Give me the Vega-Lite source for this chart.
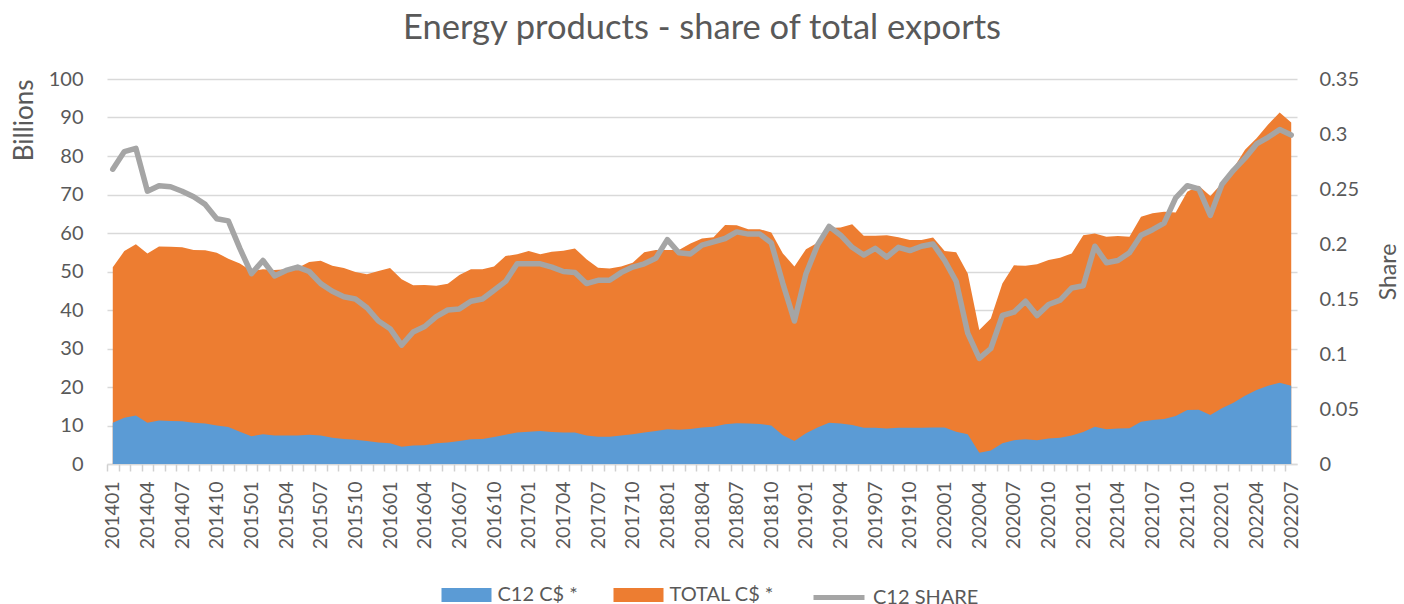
{
  "$schema": "https://vega.github.io/schema/vega-lite/v6.json",
  "autosize": {"type": "none"},
  "width": 1190,
  "height": 385,
  "padding": {"left": 107, "top": 79, "right": 107, "bottom": 140},
  "background": "white",
  "title": {"text": "Energy products - share of total exports", "font": "Lato", "fontSize": 34.5, "fontWeight": "normal", "color": "#595959", "offset": 23, "anchor": "middle"},
  "config": {"view": {"stroke": null}, "font": "Lato"},
  "data": {"values": [
    {"m":"201401","c12":10.7,"total":51.1,"share":0.268},
    {"m":"201402","c12":12.0,"total":55.3,"share":0.284},
    {"m":"201403","c12":12.6,"total":57.1,"share":0.287},
    {"m":"201404","c12":10.7,"total":54.7,"share":0.248},
    {"m":"201405","c12":11.3,"total":56.5,"share":0.253},
    {"m":"201406","c12":11.2,"total":56.4,"share":0.252},
    {"m":"201407","c12":11.1,"total":56.3,"share":0.248},
    {"m":"201408","c12":10.7,"total":55.6,"share":0.243},
    {"m":"201409","c12":10.5,"total":55.5,"share":0.236},
    {"m":"201410","c12":10.0,"total":54.9,"share":0.223},
    {"m":"201411","c12":9.6,"total":53.3,"share":0.221},
    {"m":"201412","c12":8.4,"total":52.1,"share":0.196},
    {"m":"201501","c12":7.2,"total":50.1,"share":0.173},
    {"m":"201502","c12":7.7,"total":50.6,"share":0.185},
    {"m":"201503","c12":7.4,"total":50.4,"share":0.171},
    {"m":"201504","c12":7.4,"total":50.6,"share":0.176},
    {"m":"201505","c12":7.4,"total":50.9,"share":0.179},
    {"m":"201506","c12":7.6,"total":52.5,"share":0.175},
    {"m":"201507","c12":7.4,"total":52.8,"share":0.164},
    {"m":"201508","c12":6.8,"total":51.5,"share":0.157},
    {"m":"201509","c12":6.5,"total":50.9,"share":0.152},
    {"m":"201510","c12":6.3,"total":49.9,"share":0.150},
    {"m":"201511","c12":6.0,"total":49.3,"share":0.142},
    {"m":"201512","c12":5.6,"total":50.1,"share":0.130},
    {"m":"201601","c12":5.4,"total":50.9,"share":0.123},
    {"m":"201602","c12":4.5,"total":48.0,"share":0.108},
    {"m":"201603","c12":4.8,"total":46.4,"share":0.120},
    {"m":"201604","c12":4.9,"total":46.5,"share":0.125},
    {"m":"201605","c12":5.4,"total":46.3,"share":0.134},
    {"m":"201606","c12":5.6,"total":46.8,"share":0.140},
    {"m":"201607","c12":6.0,"total":49.1,"share":0.141},
    {"m":"201608","c12":6.4,"total":50.6,"share":0.148},
    {"m":"201609","c12":6.5,"total":50.6,"share":0.150},
    {"m":"201610","c12":7.0,"total":51.3,"share":0.158},
    {"m":"201611","c12":7.6,"total":54.0,"share":0.166},
    {"m":"201612","c12":8.2,"total":54.5,"share":0.182},
    {"m":"201701","c12":8.4,"total":55.3,"share":0.182},
    {"m":"201702","c12":8.6,"total":54.5,"share":0.182},
    {"m":"201703","c12":8.3,"total":55.1,"share":0.179},
    {"m":"201704","c12":8.2,"total":55.4,"share":0.175},
    {"m":"201705","c12":8.2,"total":56.0,"share":0.174},
    {"m":"201706","c12":7.4,"total":53.2,"share":0.164},
    {"m":"201707","c12":7.1,"total":51.0,"share":0.167},
    {"m":"201708","c12":7.1,"total":50.8,"share":0.167},
    {"m":"201709","c12":7.4,"total":51.3,"share":0.174},
    {"m":"201710","c12":7.7,"total":52.3,"share":0.179},
    {"m":"201711","c12":8.2,"total":55.0,"share":0.182},
    {"m":"201712","c12":8.6,"total":55.6,"share":0.187},
    {"m":"201801","c12":9.0,"total":55.6,"share":0.204},
    {"m":"201802","c12":8.9,"total":55.6,"share":0.192},
    {"m":"201803","c12":9.1,"total":57.3,"share":0.191},
    {"m":"201804","c12":9.5,"total":58.6,"share":0.199},
    {"m":"201805","c12":9.7,"total":58.9,"share":0.202},
    {"m":"201806","c12":10.3,"total":62.1,"share":0.205},
    {"m":"201807","c12":10.6,"total":62.0,"share":0.211},
    {"m":"201808","c12":10.5,"total":61.0,"share":0.209},
    {"m":"201809","c12":10.4,"total":61.0,"share":0.209},
    {"m":"201810","c12":10.0,"total":60.1,"share":0.201},
    {"m":"201811","c12":7.5,"total":54.7,"share":0.164},
    {"m":"201812","c12":6.0,"total":51.3,"share":0.130},
    {"m":"201901","c12":8.0,"total":55.8,"share":0.173},
    {"m":"201902","c12":9.5,"total":57.5,"share":0.199},
    {"m":"201903","c12":10.7,"total":61.3,"share":0.216},
    {"m":"201904","c12":10.5,"total":61.4,"share":0.208},
    {"m":"201905","c12":10.1,"total":62.3,"share":0.197},
    {"m":"201906","c12":9.4,"total":59.3,"share":0.190},
    {"m":"201907","c12":9.4,"total":59.3,"share":0.196},
    {"m":"201908","c12":9.2,"total":59.4,"share":0.188},
    {"m":"201909","c12":9.4,"total":58.9,"share":0.197},
    {"m":"201910","c12":9.4,"total":58.2,"share":0.194},
    {"m":"201911","c12":9.4,"total":58.2,"share":0.198},
    {"m":"201912","c12":9.5,"total":58.8,"share":0.200},
    {"m":"202001","c12":9.5,"total":55.3,"share":0.185},
    {"m":"202002","c12":8.4,"total":55.0,"share":0.166},
    {"m":"202003","c12":7.7,"total":49.5,"share":0.119},
    {"m":"202004","c12":2.9,"total":34.8,"share":0.096},
    {"m":"202005","c12":3.5,"total":37.8,"share":0.105},
    {"m":"202006","c12":5.4,"total":46.9,"share":0.135},
    {"m":"202007","c12":6.2,"total":51.6,"share":0.138},
    {"m":"202008","c12":6.4,"total":51.5,"share":0.148},
    {"m":"202009","c12":6.2,"total":51.9,"share":0.135},
    {"m":"202010","c12":6.6,"total":53.0,"share":0.145},
    {"m":"202011","c12":6.8,"total":53.6,"share":0.149},
    {"m":"202012","c12":7.4,"total":54.7,"share":0.160},
    {"m":"202101","c12":8.3,"total":59.4,"share":0.162},
    {"m":"202102","c12":9.7,"total":59.9,"share":0.198},
    {"m":"202103","c12":9.0,"total":59.0,"share":0.183},
    {"m":"202104","c12":9.2,"total":59.2,"share":0.185},
    {"m":"202105","c12":9.3,"total":59.0,"share":0.192},
    {"m":"202106","c12":11.0,"total":64.2,"share":0.208},
    {"m":"202107","c12":11.4,"total":65.1,"share":0.213},
    {"m":"202108","c12":11.7,"total":65.5,"share":0.219},
    {"m":"202109","c12":12.5,"total":65.3,"share":0.242},
    {"m":"202110","c12":14.0,"total":70.7,"share":0.253},
    {"m":"202111","c12":14.1,"total":72.3,"share":0.250},
    {"m":"202112","c12":12.7,"total":69.6,"share":0.226},
    {"m":"202201","c12":14.5,"total":72.9,"share":0.254},
    {"m":"202202","c12":15.9,"total":76.8,"share":0.267},
    {"m":"202203","c12":17.7,"total":81.6,"share":0.278},
    {"m":"202204","c12":19.2,"total":84.6,"share":0.291},
    {"m":"202205","c12":20.3,"total":88.2,"share":0.297},
    {"m":"202206","c12":21.1,"total":91.3,"share":0.304},
    {"m":"202207","c12":20.3,"total":88.7,"share":0.299}
  ]},
  "layer": [
    {
      "encoding": {
        "x": {
          "field": "m", "type": "ordinal",
          "scale": {"type": "point", "padding": 0.5},
          "axis": {
            "orient": "bottom", "title": null, "labelAngle": -90, "labelFontSize": 19.5, "labelColor": "#595959", "labelFont": "Lato",
            "labelExpr": "indexof(['01','04','07','10'], substring(datum.value, 4, 6)) >= 0 ? datum.value : ''",
            "labelOverlap": false, "labelPadding": 17, "ticks": false,
            "domainColor": "#D9D9D9", "domainWidth": 1.5, "grid": false
          }
        }
      },
      "layer": [
        {
          "mark": {"type": "area", "opacity": 1},
          "encoding": {
            "y": {"field": "total", "type": "quantitative", "scale": {"domain": [0, 100]},
              "axis": {"title": "Billions", "titleFont": "Lato", "titleFontSize": 26, "titleFontWeight": "normal", "titleColor": "#595959",
                "titleAnchor": "end", "titlePadding": 11, "labelOverlap": false,
                "values": [0,10,20,30,40,50,60,70,80,90,100], "labelFontSize": 20, "labelColor": "#595959", "labelPadding": 24,
                "ticks": false, "domain": false, "grid": true, "gridColor": "#D9D9D9", "gridWidth": 1.4}},
            "color": {"datum": "TOTAL C$ *", "type": "nominal",
              "scale": {"domain": ["C12 C$ *", "TOTAL C$ *"], "range": ["#5B9BD5", "#ED7D31"]},
              "legend": {"orient": "none", "legendX": 334.5, "legendY": 491, "direction": "horizontal", "title": null,
                "symbolType": "M-1,-0.28H1V0.28H-1Z", "symbolSize": 2500, "symbolOpacity": 1, "symbolStrokeWidth": 0,
                "labelFontSize": 20, "labelColor": "#595959", "labelFont": "Lato", "labelOffset": 6, "columnPadding": 35}}
          }
        },
        {
          "mark": {"type": "area", "opacity": 1},
          "encoding": {
            "y": {"field": "c12", "type": "quantitative",
              "axis": {"title": "Billions", "titleFont": "Lato", "titleFontSize": 26, "titleFontWeight": "normal", "titleColor": "#595959",
                "titleAnchor": "end", "titlePadding": 11, "labelOverlap": false,
                "values": [0,10,20,30,40,50,60,70,80,90,100], "labelFontSize": 20, "labelColor": "#595959", "labelPadding": 24,
                "ticks": false, "domain": false, "grid": true, "gridColor": "#D9D9D9", "gridWidth": 1.4}},
            "color": {"datum": "C12 C$ *", "type": "nominal"}
          }
        }
      ]
    },
    {
      "mark": {"type": "line", "strokeWidth": 5.5, "strokeCap": "round", "strokeJoin": "round"},
      "encoding": {
        "x": {
          "field": "m", "type": "ordinal",
          "axis": {"orient": "bottom", "title": null, "labels": false, "domain": false, "grid": false, "ticks": true,
            "tickOffset": -5.777, "tickSize": 7, "tickColor": "#D0D0D0", "tickWidth": 1.5}
        },
        "y": {"field": "share", "type": "quantitative", "scale": {"domain": [0, 0.35]},
          "axis": {"orient": "right", "title": "Share", "titleFont": "Lato", "titleFontSize": 23, "titleFontWeight": "normal", "titleColor": "#595959", "titlePadding": 42, "titleAngle": 270,
            "values": [0,0.05,0.1,0.15,0.2,0.25,0.3,0.35], "format": "~g", "labelFontSize": 20, "labelColor": "#595959", "labelPadding": 22, "labelOverlap": false,
            "ticks": false, "domain": false, "grid": false}},
        "stroke": {"datum": "C12 SHARE", "type": "nominal",
          "scale": {"domain": ["C12 SHARE"], "range": ["#A5A5A5"]},
          "legend": {"orient": "none", "legendX": 704, "legendY": 490.5, "direction": "horizontal", "title": null,
            "symbolType": "stroke", "symbolSize": 2601, "symbolStrokeWidth": 5, "symbolStrokeColor": "#A5A5A5",
            "labelFontSize": 20, "labelColor": "#595959", "labelFont": "Lato", "labelOffset": 6}}
      }
    }
  ],
  "resolve": {"scale": {"y": "independent"}, "axis": {"x": "independent"}}
}
